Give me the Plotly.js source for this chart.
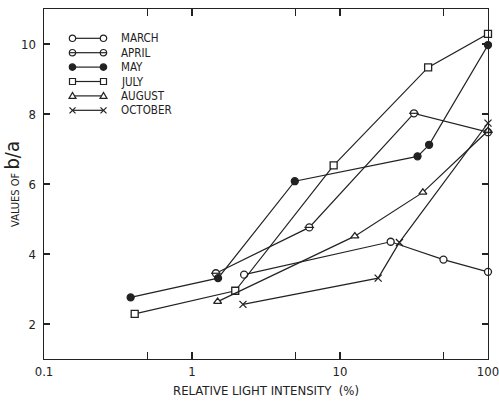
<!DOCTYPE html>
<html>
<head>
<meta charset="utf-8">
<script src="https://cdn.plot.ly/plotly-3.0.1.min.js"></script>
<style>html,body{margin:0;padding:0;background:#fff;}#chart{width:499px;height:404px;}</style>
</head>
<body>
<div id="chart"></div>
<script>
// Relative light intensity (%) and b/a values
const marchX = [2.25, 22, 50, 100];
const marchY = [3.41, 4.35, 3.84, 3.49];
const aprilX = [1.45, 6.2, 31.6, 100];
const aprilY = [3.45, 4.76, 8.02, 7.48];
const mayX = [0.385, 1.5, 4.95, 33.4, 40, 100];
const mayY = [2.76, 3.31, 6.08, 6.79, 7.12, 9.97];
const julyX = [0.41, 1.96, 9.06, 39.4, 100];
const julyY = [2.29, 2.95, 6.53, 9.33, 10.29];
const augustX = [1.49, 12.6, 36.3, 100];
const augustY = [2.64, 4.51, 5.76, 7.52];
const octoberX = [2.21, 18.1, 25.2, 100];
const octoberY = [2.56, 3.31, 4.33, 7.74];

const seriesNames = ['MARCH', 'APRIL', 'MAY', 'JULY', 'AUGUST', 'OCTOBER'];

const xTickVals = [0.1, 0.5, 1, 5, 10, 50, 100];
const xTickText = ['0.1', '', '1', '', '10', '', '100'];
const yTickVals = [2, 4, 6, 8, 10];

const FONT = '"DejaVu Sans Condensed", "Liberation Sans Narrow", sans-serif';
const INK = '#222';

// plot-area geometry in pixels (for the hand-drawn legend)
const W = 499, H = 404, ML = 44, MR = 11, MT = 9, MB = 45;
const PW = W - ML - MR, PH = H - MT - MB;
const px2x = p => (p - ML) / PW;
const px2y = p => (H - MB - p) / PH;

const styles = [
  {symbol: 'circle', fill: '#fff'},
  {symbol: 'circle', fill: '#fff'},
  {symbol: 'circle', fill: INK},
  {symbol: 'square', fill: '#fff'},
  {symbol: 'triangle-up', fill: '#fff'},
  {symbol: 'x-thin', fill: INK}
];
const xs = [marchX, aprilX, mayX, julyX, augustX, octoberX];
const ys = [marchY, aprilY, mayY, julyY, augustY, octoberY];

const data = seriesNames.map((name, i) => ({
  type: 'scatter', mode: 'lines+markers', name: name, x: xs[i], y: ys[i],
  line: {color: INK, width: 1.2},
  marker: {symbol: styles[i].symbol, size: 7, color: styles[i].fill, line: {color: INK, width: 1.3}},
  cliponaxis: false, showlegend: false
}));
// bar across the April circles (theta-like symbol)
data.push({
  type: 'scatter', mode: 'markers', name: 'APRIL', x: aprilX, y: aprilY,
  marker: {symbol: 'line-ew', size: 7, line: {color: INK, width: 1.2}},
  cliponaxis: false, showlegend: false
});

// legend drawn with shapes + annotations
const shapes = [];
const annotations = [];
const LG_X0 = 72.5, LG_X1 = 103.5, LG_Y0 = 38.3, LG_DY = 14.4, LG_TX = 118.5;
function markerShapes(kind, cx, cy) {
  const base = {xref: 'paper', yref: 'paper', xsizemode: 'pixel', ysizemode: 'pixel',
                xanchor: px2x(cx), yanchor: px2y(cy), line: {color: INK, width: 1.2}};
  const r = 3.2;
  const out = [];
  if (kind === 0 || kind === 1 || kind === 2) {
    out.push(Object.assign({}, base, {type: 'circle', x0: -r, x1: r, y0: -r, y1: r,
      fillcolor: kind === 2 ? INK : '#fff'}));
    if (kind === 1) out.push(Object.assign({}, base, {type: 'line', x0: -r, x1: r, y0: 0, y1: 0}));
  } else if (kind === 3) {
    out.push(Object.assign({}, base, {type: 'rect', x0: -3, x1: 3, y0: -3, y1: 3, fillcolor: '#fff'}));
  } else if (kind === 4) {
    out.push(Object.assign({}, base, {type: 'path', path: 'M -3.5 -2.5 L 3.5 -2.5 L 0 3.5 Z', fillcolor: '#fff'}));
  } else {
    out.push(Object.assign({}, base, {type: 'line', x0: -3, x1: 3, y0: -3, y1: 3}));
    out.push(Object.assign({}, base, {type: 'line', x0: -3, x1: 3, y0: 3, y1: -3}));
  }
  return out;
}
seriesNames.forEach((name, i) => {
  const cy = LG_Y0 + LG_DY * i;
  shapes.push({type: 'line', xref: 'paper', yref: 'paper',
    x0: px2x(LG_X0), x1: px2x(LG_X1), y0: px2y(cy), y1: px2y(cy), line: {color: INK, width: 1.2}});
  shapes.push(...markerShapes(i, LG_X0, cy));
  shapes.push(...markerShapes(i, LG_X1, cy));
  annotations.push({xref: 'paper', yref: 'paper', x: px2x(LG_TX), y: px2y(cy),
    xanchor: 'left', yanchor: 'middle', showarrow: false, text: name,
    font: {family: FONT, size: 11.5, color: INK}});
});

const layout = {
  width: W, height: H,
  margin: {l: ML, r: MR, t: MT, b: MB},
  paper_bgcolor: '#fff', plot_bgcolor: '#fff',
  font: {family: FONT, color: INK, size: 13},
  showlegend: false,
  shapes: shapes,
  annotations: annotations,
  xaxis: {
    type: 'log', range: [-1, 2],
    tickvals: xTickVals, ticktext: xTickText,
    ticks: 'inside', ticklen: 7, tickwidth: 1.2, tickcolor: INK,
    showline: true, linecolor: INK, linewidth: 1.4, mirror: 'allticks',
    showgrid: false, zeroline: false, ticklabeloverflow: 'allow',
    tickfont: {family: FONT, size: 13, color: INK},
    title: {text: 'RELATIVE LIGHT INTENSITY  (%)', font: {family: FONT, size: 13, color: INK}, standoff: 8}
  },
  yaxis: {
    range: [1, 11],
    tickvals: yTickVals,
    ticks: 'inside', ticklen: 6, tickwidth: 1.2, tickcolor: INK,
    showline: true, linecolor: INK, linewidth: 1.4, mirror: 'allticks',
    showgrid: false, zeroline: false, ticklabelstandoff: 4,
    tickfont: {family: FONT, size: 13, color: INK},
    title: {text: 'VALUES OF <span style="font-size:20px">b/a</span>', font: {family: FONT, size: 11, color: INK}, standoff: 6}
  }
};

Plotly.newPlot('chart', data, layout, {displayModeBar: false, staticPlot: true});
</script>
</body>
</html>
